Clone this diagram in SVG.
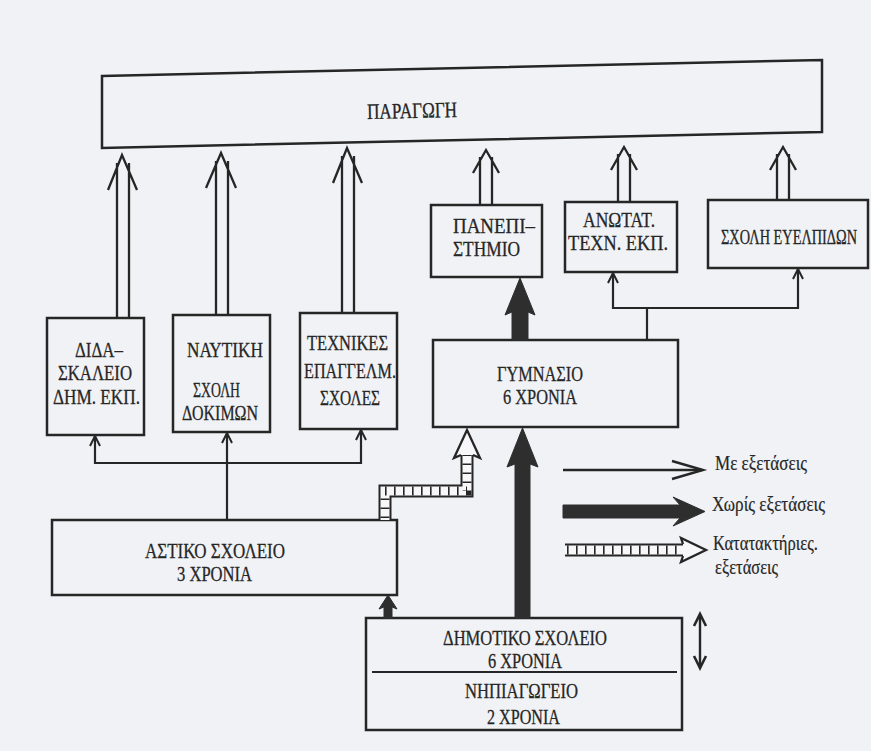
<svg xmlns="http://www.w3.org/2000/svg" width="871" height="751" viewBox="0 0 871 751">
<defs>
<style>
.bg{fill:#f1f2f5}
.box{fill:none;stroke:#262626;stroke-width:2.5}
.t{font-family:"Liberation Serif","DejaVu Serif",serif;font-size:22px;fill:#262626;stroke:#262626;stroke-width:0.3;text-anchor:middle}
.ts{font-family:"Liberation Serif","DejaVu Serif",serif;font-size:22px;fill:#262626;stroke:#262626;stroke-width:0.3;text-anchor:start}
.lg{font-family:"Liberation Serif","DejaVu Serif",serif;font-size:20px;fill:#262626;stroke:#262626;stroke-width:0.2;text-anchor:start}
.ln{fill:none;stroke:#262626;stroke-width:2.2}
.hol{fill:none;stroke:#262626;stroke-width:2.3;stroke-linejoin:miter}
.blk{fill:#2e2e2e;stroke:#2e2e2e;stroke-width:1}
.chk1{fill:none;stroke:#262626;stroke-width:13;stroke-linejoin:miter}
.chk2{fill:none;stroke:#f7f7f9;stroke-width:9;stroke-linejoin:miter}
.chk3{fill:none;stroke:#262626;stroke-width:9;stroke-dasharray:1.6 7.4}
.chkh{fill:#f7f7f9;stroke:#262626;stroke-width:2.3;stroke-linejoin:miter}
</style>
<marker id="ah" viewBox="0 0 12 12" markerWidth="12" markerHeight="12" refX="11" refY="6" orient="auto" markerUnits="userSpaceOnUse">
<path d="M1,1 L11,6 L1,11" fill="none" stroke="#262626" stroke-width="2"/>
</marker>
</defs>
<rect class="bg" x="0" y="0" width="871" height="751"/>

<g id="paragogi">
<polygon class="box" points="102,76 822,60 822,132 102,148"/>
<text class="t" x="412" y="118" textLength="90" lengthAdjust="spacingAndGlyphs" transform="rotate(-1.27 412 110)">ΠΑΡΑΓΩΓΗ</text>
</g>

<g id="didaskaleio">
<rect class="box" x="47" y="318" width="97" height="117"/>
<text class="t" x="99" y="357" textLength="48" lengthAdjust="spacingAndGlyphs">ΔΙΔΑ–</text>
<text class="t" x="95" y="380" textLength="74" lengthAdjust="spacingAndGlyphs">ΣΚΑΛΕΙΟ</text>
<text class="t" x="96.5" y="404" textLength="87" lengthAdjust="spacingAndGlyphs">ΔΗΜ. ΕΚΠ.</text>
</g>

<g id="naytiki">
<rect class="box" x="173" y="315" width="97" height="117"/>
<text class="t" x="225" y="357" textLength="76" lengthAdjust="spacingAndGlyphs">ΝΑΥΤΙΚΗ</text>
<text class="t" x="216.5" y="397" textLength="47" lengthAdjust="spacingAndGlyphs">ΣΧΟΛΗ</text>
<text class="t" x="220" y="420" textLength="76" lengthAdjust="spacingAndGlyphs">ΔΟΚΙΜΩΝ</text>
</g>

<g id="texnikes">
<rect class="box" x="300" y="313" width="97" height="116"/>
<text class="t" x="347.5" y="350" textLength="81" lengthAdjust="spacingAndGlyphs">ΤΕΧΝΙΚΕΣ</text>
<text class="t" x="350" y="378" textLength="92" lengthAdjust="spacingAndGlyphs">ΕΠΑΓΓΕΛΜ.</text>
<text class="t" x="350" y="405" textLength="60" lengthAdjust="spacingAndGlyphs">ΣΧΟΛΕΣ</text>
</g>

<g id="panepistimio">
<rect class="box" x="431" y="205" width="111" height="72"/>
<text class="ts" x="453" y="233" textLength="82" lengthAdjust="spacingAndGlyphs">ΠΑΝΕΠΙ–</text>
<text class="ts" x="453" y="256" textLength="67" lengthAdjust="spacingAndGlyphs">ΣΤΗΜΙΟ</text>
</g>

<g id="anotat">
<rect class="box" x="565" y="202" width="112" height="70"/>
<text class="t" x="619" y="227" textLength="72" lengthAdjust="spacingAndGlyphs">ΑΝΩΤΑΤ.</text>
<text class="t" x="618" y="250" textLength="100" lengthAdjust="spacingAndGlyphs">ΤΕΧΝ. ΕΚΠ.</text>
</g>

<g id="evelpidon">
<rect class="box" x="708" y="200" width="160" height="68"/>
<text class="t" x="789" y="244" style="font-size:20px" textLength="136" lengthAdjust="spacingAndGlyphs">ΣΧΟΛΗ ΕΥΕΛΠΙΔΩΝ</text>
</g>

<g id="gymnasio">
<rect class="box" x="433" y="340" width="245" height="87"/>
<text class="t" x="540" y="381" textLength="86" lengthAdjust="spacingAndGlyphs">ΓΥΜΝΑΣΙΟ</text>
<text class="t" x="540" y="404" textLength="74" lengthAdjust="spacingAndGlyphs">6 ΧΡΟΝΙΑ</text>
</g>

<g id="astiko">
<rect class="box" x="52" y="520" width="345" height="75"/>
<text class="t" x="215" y="558" textLength="140" lengthAdjust="spacingAndGlyphs">ΑΣΤΙΚΟ ΣΧΟΛΕΙΟ</text>
<text class="t" x="214.5" y="581" textLength="75" lengthAdjust="spacingAndGlyphs">3 ΧΡΟΝΙΑ</text>
</g>

<g id="dimotiko">
<rect class="box" x="366" y="618" width="316" height="112"/>
<line class="ln" x1="372" y1="672" x2="677" y2="672"/>
<text class="t" x="525" y="645" textLength="164" lengthAdjust="spacingAndGlyphs">ΔΗΜΟΤΙΚΟ ΣΧΟΛΕΙΟ</text>
<text class="t" x="525" y="668" textLength="74" lengthAdjust="spacingAndGlyphs">6 ΧΡΟΝΙΑ</text>
<text class="t" x="521.5" y="698" textLength="113" lengthAdjust="spacingAndGlyphs">ΝΗΠΙΑΓΩΓΕΙΟ</text>
<text class="t" x="523.5" y="724" textLength="73" lengthAdjust="spacingAndGlyphs">2 ΧΡΟΝΙΑ</text>
</g>

<g id="connectors">
<path class="hol" d="M117,318 V163 M129,318 V163 M108,190 L122,155 L137,190"/>
<path class="hol" d="M216,315 V161 M228,315 V161 M206,188 L221,153 L236,188"/>
<path class="hol" d="M342,313 V156 M354,313 V156 M333,183 L347,148 L362,183"/>
<path class="hol" d="M480,205 V157 M492,205 V157 M473,173 L486,150 L499,173"/>
<path class="hol" d="M618,202 V154 M630,202 V154 M611,170 L624,147 L637,170"/>
<path class="hol" d="M777,200 V154 M789,200 V154 M770,170 L783,147 L796,170"/>

<line class="ln" x1="227" y1="520" x2="227" y2="433" marker-end="url(#ah)"/>
<line class="ln" x1="95" y1="463" x2="361" y2="463"/>
<line class="ln" x1="95" y1="464" x2="95" y2="436" marker-end="url(#ah)"/>
<line class="ln" x1="361" y1="464" x2="361" y2="430" marker-end="url(#ah)"/>
<line class="ln" x1="647" y1="340" x2="647" y2="308"/>
<line class="ln" x1="613" y1="308" x2="798" y2="308"/>
<line class="ln" x1="613" y1="309" x2="613" y2="273" marker-end="url(#ah)"/>
<line class="ln" x1="798" y1="309" x2="798" y2="269" marker-end="url(#ah)"/>

<polygon class="blk" points="512,340 512,312 505,315 520,278 535,315 528,312 528,340"/>
<polygon class="blk" points="515,618 515,464 507,467 522.5,428 538,467 530,464 530,618"/>
<polygon class="blk" points="384,618 384,607 379,609 388,595 397,609 392,607 392,618"/>

<path class="chk1" d="M385,520 V491 H467 V455"/>
<path class="chk2" d="M385,520 V491 H467 V455"/>
<path class="chk3" d="M385,518 V491 H467 V455"/>
<path class="chkh" d="M461,455 L454,458 L467,430 L480,458 L473,455"/>

<line x1="563" y1="470" x2="702" y2="470" stroke="#262626" stroke-width="2.6"/>
<polyline points="672,461 703,470 672,479" fill="none" stroke="#262626" stroke-width="2.4"/>
<polygon class="blk" points="563,505 680,505 673,497 705,511.5 673,526 680,518 563,518"/>
<path class="chk1" d="M565,550 H683"/>
<path class="chk2" d="M565,550 H683"/>
<path class="chk3" d="M567,550 H683"/>
<path class="chkh" d="M683,544 L681,538 L706,550 L681,562 L683,556"/>

<line x1="700" y1="617" x2="700" y2="665" stroke="#262626" stroke-width="2.4"/>
<polyline points="694,626 700,614 706,626" fill="none" stroke="#262626" stroke-width="2.6"/>
<polyline points="694,656 700,668 706,656" fill="none" stroke="#262626" stroke-width="2.6"/>
</g>

<g id="legend-text">
<text class="lg" x="715" y="470" textLength="92" lengthAdjust="spacingAndGlyphs">Με εξετάσεις</text>
<text class="lg" x="712" y="511" textLength="113" lengthAdjust="spacingAndGlyphs">Χωρίς εξετάσεις</text>
<text class="lg" x="713" y="550" textLength="105" lengthAdjust="spacingAndGlyphs">Κατατακτήριες.</text>
<text class="lg" x="715" y="574" textLength="63" lengthAdjust="spacingAndGlyphs">εξετάσεις</text>
</g>
</svg>
